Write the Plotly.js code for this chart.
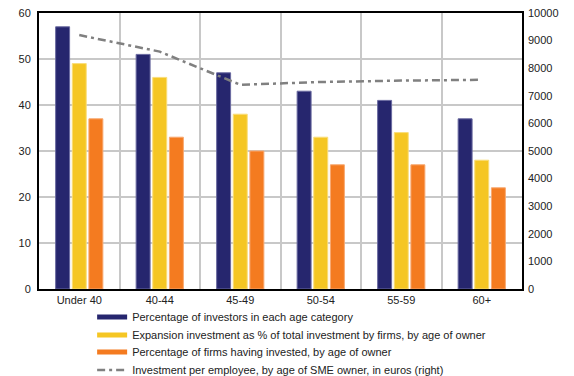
<!DOCTYPE html>
<html>
<head>
<meta charset="utf-8">
<script src="https://cdn.plot.ly/plotly-3.0.1.min.js"></script>
<style>
  html, body { margin: 0; padding: 0; background: #fff; }
  #chart { width: 574px; height: 376px; }
</style>
</head>
<body>
<div id="chart"></div>
<script>
// Age categories of SME owners
const categories = ["Under 40", "40-44", "45-49", "50-54", "55-59", "60+"];

// Left axis series (%)
const investorsShare = [57, 51, 47, 43, 41, 37];
const expansionShare = [49, 46, 38, 33, 34, 28];
const firmsInvested = [37, 33, 30, 27, 27, 22];

// Right axis series (euros)
const investPerEmployee = [9200, 8600, 7400, 7500, 7550, 7580];

const seriesNames = [
  "Percentage of investors in each age category",
  "Expansion investment as % of total investment by firms, by age of owner",
  "Percentage of firms having invested, by age of owner",
  "Investment per employee, by age of SME owner, in euros (right)"
];

const NAVY = "#26266E";
const YELLOW = "#F5C623";
const ORANGE = "#F47B20";
const GREY = "#808080";
const DASH = "8px,4px,3px,4px";

function barTrace(values, name, color, edge) {
  return {
    type: "bar", x: categories, y: values, name: name,
    marker: { color: color, line: { color: edge, width: 1 } },
    showlegend: false, hoverinfo: "x+y"
  };
}

// Legend keys drawn as wide flat strips, each in its own legend box
function legendKey(name, color, width, legendId, dash) {
  return {
    type: "scatter", mode: "lines", x: [null], y: [null], name: name,
    line: { color: color, width: width, dash: dash || "solid" },
    showlegend: true, hoverinfo: "skip", legend: legendId
  };
}

const traces = [
  barTrace(investorsShare, seriesNames[0], NAVY, "#6A6AA0"),
  barTrace(expansionShare, seriesNames[1], YELLOW, "#F9DD7A"),
  barTrace(firmsInvested, seriesNames[2], ORANGE, "#F8A870"),
  {
    type: "scatter", mode: "lines", x: categories, y: investPerEmployee,
    yaxis: "y2", name: seriesNames[3],
    line: { color: GREY, width: 2.5, dash: DASH },
    showlegend: false
  },
  legendKey(seriesNames[0], NAVY, 5, "legend"),
  legendKey(seriesNames[1], YELLOW, 5, "legend2"),
  legendKey(seriesNames[2], ORANGE, 5, "legend3"),
  legendKey(seriesNames[3], GREY, 2.5, "legend4", DASH)
];

const tickFont = { family: "Liberation Sans, Arial, sans-serif", size: 11, color: "#222" };

function legendBox(yPos) {
  return {
    x: 0.11, xanchor: "left", y: yPos, yanchor: "middle",
    orientation: "v", bgcolor: "rgba(0,0,0,0)",
    font: { family: "Liberation Sans, Arial, sans-serif", size: 11, color: "#222" },
    itemwidth: 30, tracegroupgap: 0
  };
}

const layout = {
  width: 574, height: 376,
  margin: { l: 39, r: 52, t: 13, b: 87, autoexpand: false },
  paper_bgcolor: "#fff", plot_bgcolor: "#fff",
  barmode: "group", bargap: 0.38, bargroupgap: 0.16,
  font: tickFont,
  xaxis: {
    type: "category", tickson: "boundaries", ticks: "",
    showgrid: true, gridcolor: "#C8C8C8", gridwidth: 2,
    showline: true, linecolor: "#000", linewidth: 2, mirror: true,
    tickfont: tickFont, zeroline: false
  },
  yaxis: {
    range: [0, 60], dtick: 10, ticks: "", ticklabelstandoff: 4,
    showgrid: true, gridcolor: "#C8C8C8", gridwidth: 2,
    showline: true, linecolor: "#000", linewidth: 2, mirror: true,
    zeroline: false, tickfont: tickFont, fixedrange: true
  },
  yaxis2: {
    overlaying: "y", side: "right",
    range: [0, 10000], dtick: 1000, ticks: "", tickformat: "d", ticklabelstandoff: 5,
    showgrid: false, zeroline: false, showline: false,
    tickfont: tickFont, fixedrange: true
  },
  legend: legendBox(-0.1014),
  legend2: legendBox(-0.1667),
  legend3: legendBox(-0.2283),
  legend4: legendBox(-0.2935),
  showlegend: true
};

Plotly.newPlot("chart", traces, layout, { displayModeBar: false, staticPlot: true });
</script>
</body>
</html>
